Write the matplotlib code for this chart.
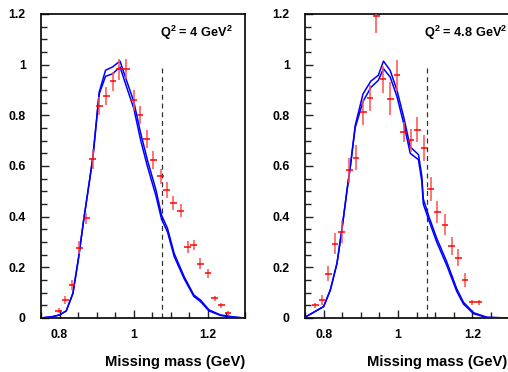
import matplotlib
matplotlib.use("Agg")
import matplotlib.pyplot as plt
from matplotlib import font_manager
from matplotlib.ticker import MultipleLocator

names = {f.name for f in font_manager.fontManager.ttflist}
NARROW = "Liberation Sans Narrow" in names
FONT = "Liberation Sans Narrow" if NARROW else "Liberation Sans"
plt.rcParams["font.family"] = [FONT, "DejaVu Sans"]
plt.rcParams["font.weight"] = "bold"
plt.rcParams["mathtext.fontset"] = "custom"
plt.rcParams["mathtext.rm"] = FONT + ":bold"
plt.rcParams["mathtext.bf"] = FONT + ":bold"
plt.rcParams["mathtext.default"] = "bf"

# ---------------- data: left panel (Q^2 = 4 GeV^2) ----------------
left_x = [0.798, 0.816, 0.834, 0.853, 0.872, 0.889, 0.907, 0.926, 0.944, 0.961, 0.980,
          1.000, 1.017, 1.035, 1.053, 1.073, 1.089, 1.107, 1.127, 1.145, 1.162, 1.180,
          1.200, 1.218, 1.236, 1.254]
left_y = [0.028, 0.070, 0.129, 0.277, 0.393, 0.628, 0.836, 0.875, 0.934, 0.981, 0.984,
          0.859, 0.800, 0.708, 0.623, 0.560, 0.505, 0.454, 0.424, 0.281, 0.289, 0.215,
          0.176, 0.078, 0.051, 0.020]
left_err = [0.010, 0.015, 0.020, 0.025, 0.020, 0.040, 0.036, 0.036, 0.036, 0.040, 0.040,
            0.040, 0.036, 0.036, 0.036, 0.030, 0.030, 0.028, 0.026, 0.023, 0.020, 0.020,
            0.018, 0.010, 0.010, 0.008]

left_cx = [0.75, 0.78, 0.80, 0.818, 0.836, 0.851, 0.865, 0.881, 0.890, 0.907, 0.924,
           0.943, 0.963, 0.980, 1.000, 1.019, 1.037, 1.060, 1.075, 1.091, 1.109, 1.136,
           1.162, 1.180, 1.203, 1.234, 1.270, 1.30]
left_hi = [0.0, 0.005, 0.012, 0.028, 0.097, 0.235, 0.386, 0.544, 0.636, 0.892, 0.978,
           0.991, 1.014, 0.940, 0.855, 0.728, 0.623, 0.505, 0.406, 0.354, 0.255, 0.163,
           0.091, 0.071, 0.032, 0.012, 0.004, 0.0]
left_lo = [0.0, 0.005, 0.012, 0.028, 0.097, 0.235, 0.386, 0.544, 0.636, 0.885, 0.954,
           0.964, 0.991, 0.915, 0.828, 0.700, 0.598, 0.482, 0.390, 0.340, 0.243, 0.155,
           0.085, 0.065, 0.028, 0.010, 0.003, 0.0]

# ---------------- data: right panel (Q^2 = 4.8 GeV^2) ----------------
right_x = [0.778, 0.796, 0.813, 0.831, 0.849, 0.869, 0.887, 0.907, 0.925, 0.942, 0.960,
           0.979, 0.997, 1.015, 1.035, 1.052, 1.070, 1.088, 1.106, 1.126, 1.144, 1.162,
           1.180, 1.200, 1.218]
right_y = [0.051, 0.071, 0.175, 0.294, 0.340, 0.583, 0.633, 0.813, 0.868, 1.194, 0.942,
           0.866, 0.958, 0.734, 0.702, 0.744, 0.671, 0.510, 0.418, 0.369, 0.284, 0.238,
           0.150, 0.063, 0.063]
right_err = [0.010, 0.018, 0.030, 0.040, 0.043, 0.050, 0.050, 0.050, 0.050, 0.070, 0.053,
             0.065, 0.060, 0.040, 0.045, 0.050, 0.052, 0.047, 0.043, 0.040, 0.036, 0.033,
             0.026, 0.010, 0.010]

right_cx = [0.75, 0.80, 0.818, 0.836, 0.849, 0.863, 0.872, 0.885, 0.906, 0.927, 0.947,
            0.961, 0.979, 0.997, 1.015, 1.033, 1.055, 1.064, 1.068, 1.082, 1.104, 1.131,
            1.158, 1.176, 1.203, 1.239, 1.30]
right_hi = [0.003, 0.045, 0.110, 0.216, 0.347, 0.505, 0.600, 0.760, 0.885, 0.935, 0.958,
            1.014, 0.977, 0.900, 0.795, 0.675, 0.645, 0.560, 0.470, 0.405, 0.315, 0.222,
            0.115, 0.062, 0.021, 0.003, 0.0]
right_lo = [0.003, 0.045, 0.110, 0.216, 0.347, 0.505, 0.600, 0.752, 0.855, 0.910, 0.938,
            0.984, 0.951, 0.875, 0.770, 0.650, 0.625, 0.540, 0.450, 0.390, 0.300, 0.208,
            0.105, 0.055, 0.017, 0.002, 0.0]

threshold = 1.077
labels = ["Q$^2$ = 4 GeV$^2$", "Q$^2$ = 4.8 GeV$^2$"]

TICK_FS = 10 if NARROW else 8.8
Q_FS = 11 if NARROW else 9.2
XL_FS = 12.7 if NARROW else 10.6

W, H = 508, 372
fig = plt.figure(figsize=(W / 100, H / 100), dpi=100)
ax_l = fig.add_axes([41 / W, (H - 318) / H, 204 / W, 304 / H])
ax_r = fig.add_axes([305 / W, (H - 318) / H, 204.6 / W, 304 / H])

panels = [
    (ax_l, left_x, left_y, left_err, left_cx, left_hi, left_lo, labels[0], 245),
    (ax_r, right_x, right_y, right_err, right_cx, right_hi, right_lo, labels[1], 507),
]

for ax, px, py, pe, cx, hi, lo, lab, xl_right in panels:
    ax.plot(cx, hi, color="#0000ff", lw=1.1, zorder=3)
    ax.plot(cx, lo, color="#0000ff", lw=1.1, zorder=3)
    ax.errorbar(px, py, yerr=pe, fmt="none", ecolor="#ff5050", elinewidth=1.1,
                capsize=0, zorder=4, clip_on=True)
    ax.errorbar(px, py, xerr=0.009, fmt="none", ecolor="#ff0000", elinewidth=1.1,
                capsize=0, zorder=5)
    ax.plot([threshold, threshold], [0, 1.0], color="#333333", lw=0.9,
            linestyle=(0, (4, 3)), zorder=2)
    ax.set_xlim(0.75, 1.30)
    ax.set_ylim(0, 1.2)
    ax.xaxis.set_minor_locator(MultipleLocator(0.05))
    ax.yaxis.set_minor_locator(MultipleLocator(0.05))
    ax.set_xticks([0.8, 1.0, 1.2])
    ax.set_xticklabels(["0.8", "1", "1.2"])
    ax.set_yticks([0, 0.2, 0.4, 0.6, 0.8, 1.0, 1.2])
    ax.set_yticklabels(["0", "0.2", "0.4", "0.6", "0.8", "1", "1.2"])
    ax.tick_params(which="both", direction="in", top=False, right=False,
                   labelsize=TICK_FS, width=1.0, color="#222222")
    ax.tick_params(which="major", length=6, pad=8)
    ax.tick_params(which="minor", length=4)
    ax.tick_params(axis="y", which="major", pad=11)
    for lbl in ax.get_xticklabels() + ax.get_yticklabels():
        lbl.set_fontweight("bold")
    for s in ax.spines.values():
        s.set_linewidth(1.2)
        s.set_color("black")
    ax.text(0.583, 0.924, lab, transform=ax.transAxes, fontsize=Q_FS,
            fontweight="bold", ha="left", va="baseline")
    fig.text(xl_right / W, (H - 366) / H, "Missing mass (GeV)",
             fontsize=XL_FS, fontweight="bold", ha="right", va="baseline")

fig.savefig("out.png", dpi=100)
